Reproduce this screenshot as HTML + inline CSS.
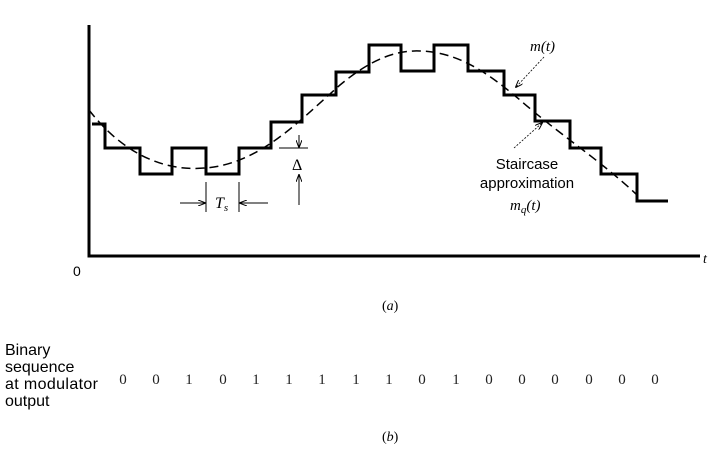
<!DOCTYPE html>
<html><head><meta charset="utf-8"><style>
html,body{margin:0;padding:0;background:#fff;}
svg{display:block;}
</style></head><body>
<svg width="727" height="450" viewBox="0 0 727 450" xmlns="http://www.w3.org/2000/svg">
<defs>
<marker id="ah" markerWidth="8" markerHeight="6" refX="7" refY="3" orient="auto" markerUnits="userSpaceOnUse">
<path d="M0,0 L8,3 L0,6" fill="none" stroke="#000" stroke-width="1"/>
</marker>
</defs>
<path d="M89,25 L89,256 L700,256" fill="none" stroke="#000" stroke-width="3"/>
<path d="M89,110 C120,150 160,172 205,168 C260,164 300,120 340,85 C370,60 395,50 420,51 C460,52 490,75 520,100 C560,135 600,160 637,195" fill="none" stroke="#000" stroke-width="1.5" stroke-dasharray="9,5"/>
<path d="M92,124 H105 V148 H140 V174 H172 V148 H206 V174 H239 V148 H271 V122 H302 V95 H336 V72 H369 V45 H401 V71 H434 V45 H468 V71 H504 V95 H535 V121 H570 V148 H601 V174 H637 V201 H668" fill="none" stroke="#000" stroke-width="3"/>
<line x1="206" y1="182" x2="206" y2="212" stroke="#000" stroke-width="1"/>
<line x1="239" y1="182" x2="239" y2="212" stroke="#000" stroke-width="1"/>
<line x1="180" y1="203" x2="205" y2="203" stroke="#000" stroke-width="1" marker-end="url(#ah)"/>
<line x1="268" y1="203" x2="240" y2="203" stroke="#000" stroke-width="1" marker-end="url(#ah)"/>
<text x="215" y="208" font-family="Liberation Serif, serif" font-style="italic" font-size="16">T<tspan font-size="11" dy="3">s</tspan></text>
<line x1="279" y1="148" x2="308" y2="148" stroke="#000" stroke-width="1"/>
<line x1="299" y1="135" x2="299" y2="147" stroke="#000" stroke-width="1" marker-end="url(#ah)"/>
<line x1="299" y1="205" x2="299" y2="175" stroke="#000" stroke-width="1" marker-end="url(#ah)"/>
<text x="292" y="170" font-family="Liberation Serif, serif" font-size="16">Δ</text>
<text x="530" y="51" font-family="Liberation Serif, serif" font-style="italic" font-size="15">m(t)</text>
<line x1="544" y1="57" x2="516" y2="87" stroke="#000" stroke-width="0.8" stroke-dasharray="2,1.5" marker-end="url(#ah)"/>
<line x1="514" y1="148" x2="542" y2="123" stroke="#000" stroke-width="0.8" stroke-dasharray="2,1.5" marker-end="url(#ah)"/>
<text x="527" y="169" text-anchor="middle" font-family="Liberation Sans, sans-serif" font-size="15">Staircase</text>
<text x="527" y="188" text-anchor="middle" font-family="Liberation Sans, sans-serif" font-size="15">approximation</text>
<text x="510" y="210" font-family="Liberation Serif, serif" font-style="italic" font-size="15">m<tspan font-size="11" dy="3">q</tspan><tspan dy="-3">(t)</tspan></text>
<text x="73" y="276" font-family="Liberation Sans, sans-serif" font-size="14">0</text>
<text x="703" y="263" font-family="Liberation Serif, serif" font-style="italic" font-size="14">t</text>
<text x="382" y="310" font-family="Liberation Serif, serif" font-size="14">(<tspan font-style="italic">a</tspan>)</text>
<g font-family="Liberation Sans, sans-serif" font-size="16">
<text x="5" y="355">Binary</text>
<text x="5" y="372">sequence</text>
<text x="5" y="389" textLength="93">at modulator</text>
<text x="5" y="406">output</text>
</g>
<g font-family="Liberation Serif, serif" font-size="15" text-anchor="middle" fill="#222">
<text x="123" y="384">0</text><text x="156" y="384">0</text><text x="189" y="384">1</text><text x="223" y="384">0</text>
<text x="256" y="384">1</text><text x="289" y="384">1</text><text x="322" y="384">1</text><text x="356" y="384">1</text>
<text x="389" y="384">1</text><text x="422" y="384">0</text><text x="456" y="384">1</text><text x="489" y="384">0</text>
<text x="522" y="384">0</text><text x="555" y="384">0</text><text x="589" y="384">0</text><text x="622" y="384">0</text>
<text x="655" y="384">0</text>
</g>
<text x="382" y="441" font-family="Liberation Serif, serif" font-size="14">(<tspan font-style="italic">b</tspan>)</text>
</svg>
</body></html>
